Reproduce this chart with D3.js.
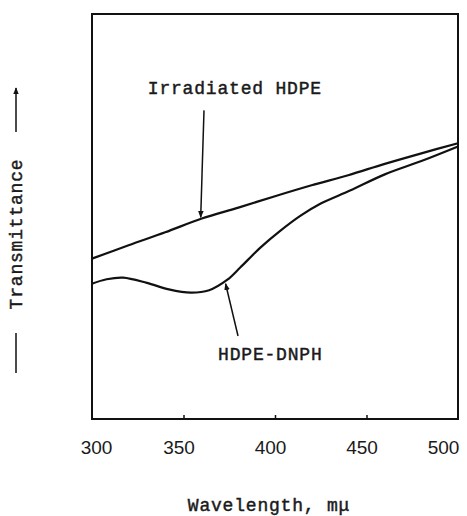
<!DOCTYPE html>
<html>
<head>
<meta charset="utf-8">
<script src="https://cdn.jsdelivr.net/npm/d3@7"></script>
<style>
  body { margin: 0; background: #fff; }
  text.tw { font-family: "Liberation Mono", monospace; font-size: 18px; letter-spacing: 0.8px; fill: #1a1a1a; stroke: #1a1a1a; stroke-width: 0.45px; }
</style>
</head>
<body>
<svg id="chart"></svg>
<script>
// wavelength (m\u03bc) vs relative transmittance (arbitrary units 0-100)
var irradWl  = [300, 320, 340, 360, 380, 400, 420, 440, 460, 480, 500];
var irradVal = [39.6, 42.9, 46.1, 49.5, 52.2, 55.0, 57.7, 60.2, 63.0, 65.6, 68.1];

var dnphWl  = [300, 308, 317, 330, 342, 354, 364, 374, 381, 392, 403, 414, 425, 441, 460, 480, 500];
var dnphVal = [33.4, 34.5, 34.9, 33.6, 32.0, 31.2, 31.8, 34.4, 37.4, 42.3, 46.5, 50.2, 53.2, 56.4, 60.4, 63.7, 67.3];

var xTicks = [300, 350, 400, 450, 500];

var width = 467;
var height = 516;
var margin = {top: 14, right: 9, bottom: 97, left: 92};

var svg = d3.select("svg#chart")
            .attr("width", width)
            .attr("height", height);

var x = d3.scaleLinear().domain([300, 500]).range([margin.left, width - margin.right]);
var y = d3.scaleLinear().domain([0, 100]).range([height - margin.bottom, margin.top]);

svg.append("defs").append("marker")
   .attr("id", "head")
   .attr("viewBox", "0 0 10 10")
   .attr("refX", 9).attr("refY", 5)
   .attr("markerWidth", 7).attr("markerHeight", 7)
   .attr("markerUnits", "userSpaceOnUse")
   .attr("orient", "auto")
   .append("path")
   .attr("d", "M0,1 L10,5 L0,9 Z")
   .attr("fill", "#111");

// frame
svg.append("rect")
   .attr("x", x(300)).attr("y", y(100))
   .attr("width", x(500) - x(300))
   .attr("height", y(0) - y(100))
   .attr("fill", "none")
   .attr("stroke", "#111")
   .attr("stroke-width", 2);

// bottom axis, ticks pointing inward
var xAxis = d3.axisBottom(x).tickValues(xTicks).tickSize(-4).tickPadding(22).tickFormat(d3.format("d"));
var gx = svg.append("g")
   .attr("transform", "translate(0," + y(0) + ")")
   .call(xAxis);
gx.select(".domain").remove();
gx.selectAll(".tick line").attr("stroke", "#111").attr("stroke-width", 1.5)
  .filter(function(d){ return d === 300 || d === 500; }).remove();
gx.selectAll(".tick text")
  .attr("font-family", "'Liberation Sans', sans-serif")
  .attr("font-size", 19)
  .attr("fill", "#1a1a1a")
  .attr("dx", function(d){ return d === 300 ? 4 : (d === 500 ? -15 : -5); });

var line = d3.line()
  .x(function(d){ return x(d[0]); })
  .y(function(d){ return y(d[1]); })
  .curve(d3.curveCatmullRom);

svg.append("path")
   .datum(d3.zip(irradWl, irradVal))
   .attr("d", line)
   .attr("fill", "none")
   .attr("stroke", "#111")
   .attr("stroke-width", 2.2);

svg.append("path")
   .datum(d3.zip(dnphWl, dnphVal))
   .attr("d", line)
   .attr("fill", "none")
   .attr("stroke", "#111")
   .attr("stroke-width", 2.2);

// annotations (data units)
var labels = [
  {text: "Irradiated HDPE", wl: 330.5, val: 80.2, from: [361.2, 76.2], to: [359.4, 49.8]},
  {text: "HDPE-DNPH", wl: 368.9, val: 14.6, from: [379.8, 20.5], to: [373.0, 33.4]}
];

svg.selectAll("line.arrow")
   .data(labels)
   .enter()
   .append("line")
   .attr("class", "arrow")
   .attr("x1", function(d){ return x(d.from[0]); })
   .attr("y1", function(d){ return y(d.from[1]); })
   .attr("x2", function(d){ return x(d.to[0]); })
   .attr("y2", function(d){ return y(d.to[1]); })
   .attr("stroke", "#111")
   .attr("stroke-width", 1.5)
   .attr("marker-end", "url(#head)");

svg.selectAll("text.lab")
   .data(labels)
   .enter()
   .append("text")
   .attr("class", "tw lab")
   .attr("x", function(d){ return x(d.wl); })
   .attr("y", function(d){ return y(d.val); })
   .text(function(d){ return d.text; });

// axis titles
svg.append("text")
   .attr("class", "tw")
   .attr("x", 269).attr("y", 511)
   .attr("text-anchor", "middle")
   .text("Wavelength, m\u03bc");

svg.append("text")
   .attr("class", "tw")
   .attr("transform", "translate(22,234) rotate(-90)")
   .attr("text-anchor", "middle")
   .text("Transmittance");

svg.append("line")
   .attr("x1", 16).attr("y1", 132).attr("x2", 16).attr("y2", 88)
   .attr("stroke", "#111").attr("stroke-width", 1.5)
   .attr("marker-end", "url(#head)");

svg.append("line")
   .attr("x1", 16).attr("y1", 333).attr("x2", 16).attr("y2", 373)
   .attr("stroke", "#111").attr("stroke-width", 1.5);
</script>
</body>
</html>
